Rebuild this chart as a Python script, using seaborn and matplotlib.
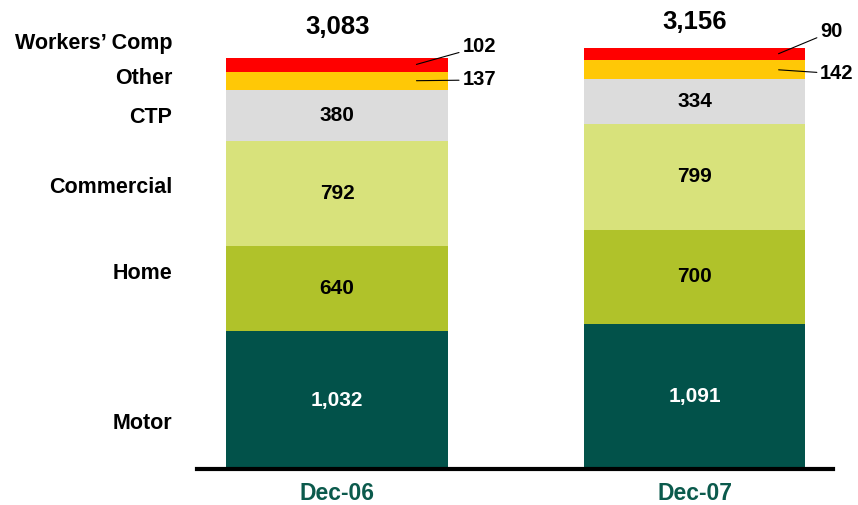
import matplotlib
matplotlib.use("Agg")
import matplotlib.pyplot as plt
import seaborn as sns
import numpy as np
import pandas as pd

sns.set_theme(style="white")
plt.rcParams["font.family"] = ["Liberation Sans", "DejaVu Sans"]
plt.rcParams["font.weight"] = "bold"

# Data
periods = ["Dec-06", "Dec-07"]
segments = ["Motor", "Home", "Commercial", "CTP", "Other", "Workers\u2019 Comp"]
motor = [1032, 1091]
home = [640, 700]
commercial = [792, 799]
ctp = [380, 334]
other = [137, 142]
workers_comp = [102, 90]
totals = [3083, 3156]

colors = ["#02524A", "#B0C22A", "#D8E27B", "#DCDCDC", "#FFC806", "#FF0000"]

values = np.array([motor, home, commercial, ctp, other, workers_comp])
tops = values.cumsum(axis=0)
rows = []
for s, seg in enumerate(segments):
    for p, per in enumerate(periods):
        rows.append({"period": per, "segment": seg,
                     "value": values[s, p], "top": tops[s, p]})
df = pd.DataFrame(rows)

fig = plt.figure(figsize=(8.58, 5.05), dpi=100)
ax = fig.add_axes([197 / 858, (505 - 469) / 505, (833 - 197) / 858, 469 / 505])

# Stacked bars: draw cumulative heights from the top segment down
for seg, col in reversed(list(zip(segments, colors))):
    sub = df[df["segment"] == seg]
    sns.barplot(data=sub, x="period", y="top", color=col, width=0.62,
                linewidth=0, saturation=1, ax=ax, order=periods)

ax.set_xlim(-0.392, 1.387)
ax.set_ylim(0, 3518)
ax.set_xlabel("")
ax.set_ylabel("")
ax.set_yticks([])
for side in ["left", "right", "top"]:
    ax.spines[side].set_visible(False)
ax.spines["bottom"].set_color("black")
ax.spines["bottom"].set_linewidth(3)
ax.tick_params(axis="x", length=0, pad=9)
for lbl in ax.get_xticklabels():
    lbl.set_color("#0B5A4C")
    lbl.set_fontsize(16.5)
    lbl.set_fontweight("bold")

# Values inside the larger segments
inside = ["Motor", "Home", "Commercial", "CTP"]
for s, seg in enumerate(segments):
    if seg not in inside:
        continue
    for p in range(len(periods)):
        v = values[s, p]
        mid = tops[s, p] - v / 2
        ax.text(p, mid, f"{v:,}", ha="center", va="center", fontsize=15,
                fontweight="bold", color="white" if seg == "Motor" else "black")

# Small segments labelled outside with leader lines
line_x = [0.218, 1.231]
text_x = [0.35, 1.351]
text_y = {"Other": [2918, 2965], "Workers\u2019 Comp": [3166, 3280]}
for seg in ["Other", "Workers\u2019 Comp"]:
    s = segments.index(seg)
    for p in range(len(periods)):
        v = values[s, p]
        mid = tops[s, p] - v / 2
        ax.annotate(f"{v:,}", xy=(line_x[p], mid),
                    xytext=(text_x[p], text_y[seg][p]),
                    ha="left", va="center", fontsize=14.5, fontweight="bold",
                    color="black", annotation_clip=False,
                    arrowprops=dict(arrowstyle="-", color="black", lw=0.8,
                                    shrinkA=0, shrinkB=1))

# Totals above the bars
total_offset = [22.3, 18.7]
for p, t in enumerate(totals):
    ax.annotate(f"{t:,}", xy=(p, t), xytext=(0, total_offset[p]),
                textcoords="offset points", ha="center", va="center",
                fontsize=18.5, fontweight="bold", color="black",
                annotation_clip=False)

# Segment names on the left
name_y = [338, 1463, 2108, 2633, 2930, 3190]
for seg, y in zip(segments, name_y):
    ax.text(-0.4615, y, seg, ha="right", va="center", fontsize=15.5,
            fontweight="bold", color="black", clip_on=False)

fig.savefig("out.png", dpi=100)
